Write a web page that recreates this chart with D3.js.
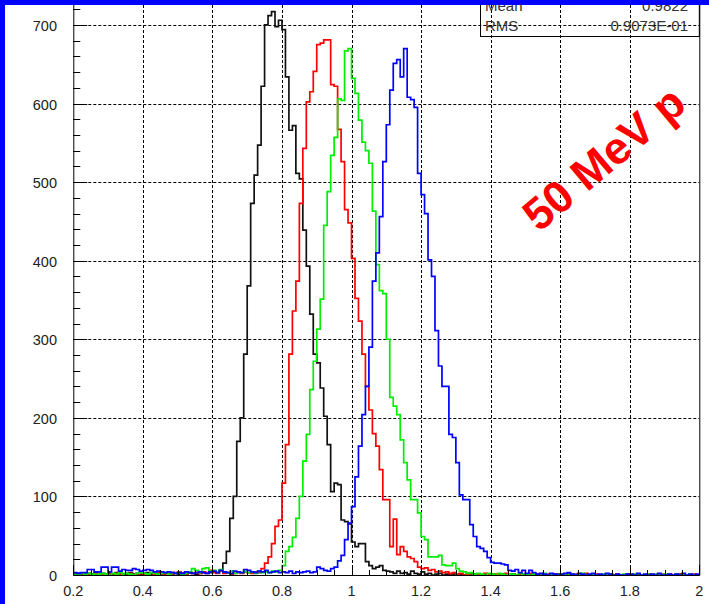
<!DOCTYPE html>
<html>
<head>
<meta charset="utf-8">
<script src="https://cdn.jsdelivr.net/npm/d3@7"></script>
<style>
body { margin: 0; background: #fff; }
svg { display: block; }
</style>
</head>
<body>
<div id="chart"></div>
<script>
//Data
var binStart = 0.2;
var binWidth = 0.01;
var xTicks = [0.2, 0.4, 0.6, 0.8, 1, 1.2, 1.4, 1.6, 1.8, 2];
var xTickLabels = ["0.2", "0.4", "0.6", "0.8", "1", "1.2", "1.4", "1.6", "1.8", "2"];
var yTicks = [0, 100, 200, 300, 400, 500, 600, 700];
var yTickLabels = ["0", "100", "200", "300", "400", "500", "600", "700"];

// counts per bin, 0.20 .. 1.99
var blackCounts = [
    1, 2, 1, 0, 2, 1, 3, 1, 2, 1,
    2, 1, 3, 2, 1, 2, 3, 1, 2, 1,
    2, 3, 1, 2, 1, 0, 2, 1, 3, 2,
    1, 2, 1, 3, 2, 1, 2, 3, 2, 3,
    4, 3, 6, 15, 30, 72, 100, 170, 200, 281,
    368, 473, 509, 547, 622, 700, 712, 717, 698, 706,
    694, 634, 566, 572, 511, 504, 439, 393, 332, 281,
    270, 238, 202, 166, 106, 117, 115, 70, 68, 65,
    42, 36, 40, 40, 17, 12, 8, 10, 12, 6,
    5, 4, 2, 5, 2, 3, 1, 5, 2, 1,
    4, 1, 2, 0, 1, 2, 0, 1, 0, 1,
    0, 1, 0, 2, 0, 1, 0, 0, 1, 0,
    1, 0, 0, 1, 0, 0, 1, 0, 0, 0,
    0, 1, 0, 0, 0, 1, 0, 0, 0, 1,
    0, 0, 1, 0, 0, 0, 0, 1, 0, 0,
    0, 0, 0, 1, 0, 0, 0, 0, 0, 1,
    0, 0, 1, 0, 0, 0, 0, 0, 1, 0,
    0, 0, 0, 0, 1, 0, 0, 0, 0, 0
];
var redCounts = [
    2, 1, 0, 2, 1, 1, 0, 2, 1, 0,
    1, 0, 2, 1, 0, 1, 2, 0, 1, 2,
    1, 0, 2, 1, 3, 0, 1, 2, 1, 3,
    4, 2, 1, 3, 2, 3, 2, 4, 3, 6,
    3, 2, 5, 2, 3, 1, 2, 3, 2, 4,
    3, 2, 4, 3, 8, 15, 23, 40, 62, 70,
    117, 166, 281, 336, 374, 473, 543, 602, 615, 641,
    675, 677, 681, 681, 624, 622, 567, 526, 465, 448,
    403, 352, 323, 281, 240, 210, 180, 164, 134, 96,
    96, 36, 71, 26, 36, 30, 23, 21, 17, 10,
    8, 9, 6, 7, 4, 5, 3, 4, 2, 3,
    1, 2, 0, 1, 2, 0, 1, 0, 2, 1,
    0, 1, 1, 0, 2, 0, 1, 0, 0, 1,
    0, 2, 0, 1, 0, 0, 1, 0, 1, 0,
    0, 1, 0, 0, 1, 0, 0, 2, 0, 0,
    1, 0, 0, 1, 0, 0, 1, 0, 0, 1,
    0, 0, 1, 0, 0, 1, 0, 0, 0, 1,
    0, 1, 0, 0, 1, 0, 0, 0, 1, 0
];
var greenCounts = [
    1, 0, 2, 1, 2, 1, 0, 1, 2, 1,
    0, 2, 1, 3, 1, 2, 1, 0, 2, 3,
    2, 1, 3, 2, 1, 2, 3, 1, 2, 2,
    3, 1, 2, 4, 8, 6, 3, 8, 9, 5,
    6, 3, 7, 4, 3, 5, 2, 4, 3, 5,
    3, 4, 2, 5, 3, 4, 3, 5, 4, 6,
    12, 30, 36, 48, 72, 100, 145, 179, 236, 272,
    313, 351, 445, 488, 534, 557, 606, 604, 667, 670,
    632, 613, 579, 551, 540, 524, 463, 395, 362, 358,
    300, 226, 215, 204, 172, 143, 121, 96, 96, 79,
    49, 45, 23, 23, 23, 25, 13, 12, 12, 15,
    8, 5, 4, 2, 3, 1, 2, 1, 0, 2,
    1, 0, 2, 1, 0, 1, 1, 0, 2, 0,
    1, 0, 1, 0, 0, 2, 0, 1, 0, 0,
    1, 0, 0, 1, 0, 0, 2, 0, 0, 1,
    0, 0, 1, 0, 1, 0, 0, 0, 1, 0,
    0, 1, 0, 0, 0, 1, 0, 1, 0, 0,
    1, 0, 0, 1, 0, 0, 0, 1, 0, 0
];
var blueCounts = [
    3, 2, 3, 3, 7, 7, 4, 4, 10, 10,
    4, 10, 10, 5, 7, 6, 6, 8, 7, 5,
    6, 7, 6, 4, 5, 4, 3, 4, 3, 2,
    3, 2, 4, 3, 2, 3, 4, 3, 2, 4,
    5, 3, 6, 4, 3, 2, 5, 4, 3, 7,
    6, 4, 3, 5, 4, 6, 3, 4, 5, 3,
    4, 3, 5, 2, 4, 3, 4, 5, 3, 4,
    10, 8, 6, 5, 8, 10, 18, 25, 45, 66,
    87, 125, 164, 204, 240, 290, 374, 410, 456, 526,
    573, 617, 651, 656, 634, 670, 608, 605, 595, 511,
    484, 460, 401, 380, 311, 266, 240, 240, 179, 175,
    143, 102, 96, 96, 64, 49, 36, 34, 30, 22,
    16, 15, 15, 14, 13, 6, 5, 7, 3, 6,
    2, 6, 3, 1, 2, 1, 0, 2, 1, 0,
    1, 2, 3, 1, 0, 2, 1, 0, 1, 2,
    0, 1, 0, 2, 1, 0, 1, 0, 0, 1,
    1, 0, 2, 0, 1, 0, 1, 0, 2, 0,
    0, 1, 0, 1, 0, 2, 0, 1, 0, 1
];

var seriesNames = ["black", "red", "green", "blue"];
var seriesColors = ["#111111", "#ff0000", "#00ee00", "#0000ff"];
var seriesCounts = [blackCounts, redCounts, greenCounts, blueCounts];

var statsLabels = ["Mean", "RMS"];
var statsValues = ["0.9822", "0.9073E-01"];
var noteText = "50 MeV p";

//Setup
var width = 709, height = 604;
var frame = { left: 73.3, right: 699.3, top: 5, bottom: 575 };
var labelFont = "'Liberation Sans', Arial, Helvetica, sans-serif";

var x = d3.scaleLinear().domain([0.2, 2]).range([frame.left, frame.right]);
var y = d3.scaleLinear().domain([0, 725.4]).range([frame.bottom, frame.top]);

var svg = d3.select("#chart")
    .append("svg")
    .attr("width", width)
    .attr("height", height);

svg.append("rect")
    .attr("width", width)
    .attr("height", height)
    .attr("fill", "#ffffff");

svg.append("defs").append("clipPath")
    .attr("id", "plotClip")
    .append("rect")
    .attr("x", frame.left)
    .attr("y", frame.top)
    .attr("width", frame.right - frame.left)
    .attr("height", frame.bottom - frame.top + 1);

//Grid
var grid = svg.append("g")
    .attr("stroke", "#000")
    .attr("stroke-width", 1)
    .attr("stroke-dasharray", "3,2");

grid.selectAll("line.vgrid")
    .data(xTicks.slice(1, -1))
    .enter().append("line")
    .attr("class", "vgrid")
    .attr("x1", d => Math.round(x(d)) + 0.5)
    .attr("x2", d => Math.round(x(d)) + 0.5)
    .attr("y1", frame.top)
    .attr("y2", frame.bottom);

grid.selectAll("line.hgrid")
    .data(yTicks.slice(1))
    .enter().append("line")
    .attr("class", "hgrid")
    .attr("x1", frame.left)
    .attr("x2", frame.right)
    .attr("y1", d => Math.round(y(d)) + 0.5)
    .attr("y2", d => Math.round(y(d)) + 0.5);

//Histograms
var stepLine = d3.line()
    .x(d => x(d[0]))
    .y(d => y(d[1]))
    .curve(d3.curveStepAfter);

var hists = svg.append("g").attr("clip-path", "url(#plotClip)");

seriesCounts.forEach(function (counts, k) {
    var pts = counts.map((c, i) => [binStart + i * binWidth, c]);
    pts.push([binStart + counts.length * binWidth, counts[counts.length - 1]]);
    hists.append("path")
        .attr("class", "hist-" + seriesNames[k])
        .attr("fill", "none")
        .attr("stroke", seriesColors[k])
        .attr("stroke-width", 1.7)
        .attr("d", stepLine(pts));
});

//Frame and ticks
var axes = svg.append("g")
    .attr("stroke", "#000")
    .attr("stroke-width", 1);

axes.append("path")
    .attr("fill", "none")
    .attr("d", `M${frame.left + 0.5},${frame.top} V${frame.bottom + 0.5} H${frame.right + 0.5} V${frame.top}`);

var yMinor = d3.range(0, 721, 20);
axes.selectAll("line.ytick")
    .data(yMinor)
    .enter().append("line")
    .attr("class", "ytick")
    .attr("x1", frame.left)
    .attr("x2", d => frame.left + (d % 100 === 0 ? 14 : 7))
    .attr("y1", d => Math.round(y(d)) + 0.5)
    .attr("y2", d => Math.round(y(d)) + 0.5);

var xMinor = d3.range(0.2, 2.001, 0.05);
axes.selectAll("line.xtick")
    .data(xMinor)
    .enter().append("line")
    .attr("class", "xtick")
    .attr("x1", d => Math.round(x(d)) + 0.5)
    .attr("x2", d => Math.round(x(d)) + 0.5)
    .attr("y1", frame.bottom)
    .attr("y2", (d, i) => frame.bottom - (i % 4 === 0 ? 10 : 5));

//Tick labels
svg.selectAll("text.xlab")
    .data(xTicks)
    .enter().append("text")
    .attr("class", "xlab")
    .attr("x", d => x(d))
    .attr("y", 596)
    .attr("text-anchor", "middle")
    .attr("font-family", labelFont)
    .attr("font-size", 14.5)
    .attr("fill", "#222")
    .text((d, i) => xTickLabels[i]);

svg.selectAll("text.ylab")
    .data(yTicks)
    .enter().append("text")
    .attr("class", "ylab")
    .attr("x", 57)
    .attr("y", d => y(d) + 6)
    .attr("text-anchor", "end")
    .attr("font-family", labelFont)
    .attr("font-size", 14.5)
    .attr("fill", "#222")
    .text((d, i) => yTickLabels[i]);

//Stats box (its top runs under the blue border, as in the original)
var stats = svg.append("g");
stats.append("rect")
    .attr("x", 480.5)
    .attr("y", -10)
    .attr("width", frame.right - 480.5)
    .attr("height", 46.5)
    .attr("fill", "none")
    .attr("stroke", "#000")
    .attr("stroke-width", 1);

statsLabels.forEach(function (lab, i) {
    stats.append("text")
        .attr("x", 485)
        .attr("y", 11 + i * 20)
        .attr("font-family", labelFont)
        .attr("font-size", 15)
        .attr("fill", "#333")
        .text(lab);
    stats.append("text")
        .attr("x", 688)
        .attr("y", 11 + i * 20)
        .attr("text-anchor", "end")
        .attr("font-family", labelFont)
        .attr("font-size", 15)
        .attr("fill", "#333")
        .text(statsValues[i]);
});

//Note
svg.append("text")
    .attr("transform", "translate(539,233) rotate(-40)")
    .attr("font-family", labelFont)
    .attr("font-weight", "bold")
    .attr("font-size", 45)
    .attr("fill", "#ff0000")
    .text(noteText);

//Blue border
svg.append("rect")
    .attr("x", 0).attr("y", 0)
    .attr("width", width).attr("height", 5)
    .attr("fill", "#0000ff");
svg.append("rect")
    .attr("x", 0).attr("y", 0)
    .attr("width", 5).attr("height", height)
    .attr("fill", "#0000ff");
</script>
</body>
</html>
